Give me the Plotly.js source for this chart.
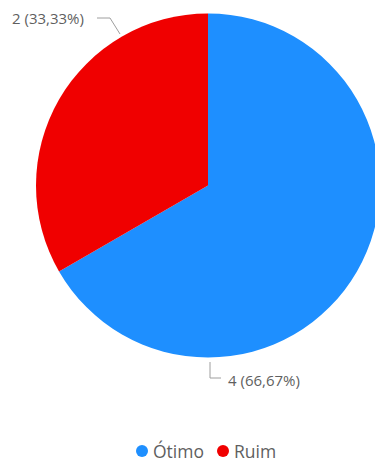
<!DOCTYPE html>
<html>
<head>
<meta charset="utf-8">
<script src="https://cdn.plot.ly/plotly-3.0.1.min.js"></script>
<style>
html,body{margin:0;padding:0;overflow:hidden;width:375px;height:464px;background:#fff;}
#chart{width:400px;height:464px;}
</style>
</head>
<body>
<div id="chart"></div>
<script>
const categories = ['Ótimo', 'Ruim'];
const values = [4, 2];
const colors = ['#1E8FFF', '#F00000'];

const W = 400, H = 464;
const total = values.reduce((a, b) => a + b, 0);
const fmtPct = v => (v / total * 100).toFixed(2).replace('.', ',') + '%';
const labelTexts = values.map(v => v + ' (' + fmtPct(v) + ')');

const px = x => x / W;
const py = y => 1 - y / H;

const data = [{
  type: 'pie',
  labels: categories,
  values: values,
  marker: {colors: colors, line: {width: 0}},
  sort: false,
  direction: 'clockwise',
  rotation: 0,
  textinfo: 'none',
  showlegend: false,
  hoverinfo: 'label+value+percent',
  domain: {x: [px(36), px(380)], y: [py(357.5), py(13.5)]}
}];

const labelFont = {family: 'Open Sans, sans-serif', size: 15, color: '#5f5f5f'};
const legendFont = {family: 'Open Sans, sans-serif', size: 17.5, color: '#5f5f5f'};
const lineStyle = {color: '#9e9e9e', width: 1};

// legend layout (pixel positions of each item's dot centre)
const legendDotX = [142, 223];
const legendY = 451;
const dotR = 6;

const annotations = [
  {xref: 'paper', yref: 'paper', x: px(226), y: py(380), xanchor: 'left', yanchor: 'middle',
   text: labelTexts[0], showarrow: false, font: labelFont},
  {xref: 'paper', yref: 'paper', x: px(86), y: py(18), xanchor: 'right', yanchor: 'middle',
   text: labelTexts[1], showarrow: false, font: labelFont}
];
const shapes = [
  {type: 'path', xref: 'paper', yref: 'paper', line: lineStyle,
   path: 'M' + px(210) + ',' + py(362) + ' L' + px(210) + ',' + py(378) + ' L' + px(221) + ',' + py(378)},
  {type: 'path', xref: 'paper', yref: 'paper', line: lineStyle,
   path: 'M' + px(97) + ',' + py(18) + ' L' + px(110) + ',' + py(18) + ' L' + px(120) + ',' + py(34)}
];
categories.forEach((c, i) => {
  const cx = legendDotX[i];
  shapes.push({type: 'circle', xref: 'paper', yref: 'paper',
    x0: px(cx - dotR), x1: px(cx + dotR), y0: py(legendY + dotR), y1: py(legendY - dotR),
    fillcolor: colors[i], line: {width: 0}});
  annotations.push({xref: 'paper', yref: 'paper', x: px(cx + dotR + 3), y: py(legendY),
    xanchor: 'left', yanchor: 'middle', text: c, showarrow: false, font: legendFont});
});

const layout = {
  width: W, height: H,
  margin: {l: 0, r: 0, t: 0, b: 0},
  paper_bgcolor: '#fff',
  showlegend: false,
  annotations: annotations,
  shapes: shapes
};

Plotly.newPlot('chart', data, layout, {displayModeBar: false});
</script>
</body>
</html>
